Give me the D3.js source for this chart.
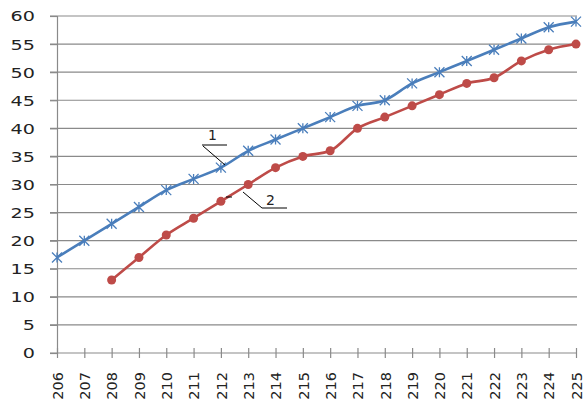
<!DOCTYPE html>
<html><head><meta charset="utf-8">
<script src="https://cdn.jsdelivr.net/npm/d3@7"></script>
<style>body{margin:0;background:#fff}svg{display:block}</style>
</head><body>
<svg id="c" width="587" height="408"></svg>
<script>
const categories = [206,207,208,209,210,211,212,213,214,215,216,217,218,219,220,221,222,223,224,225];
const series1 = [17,20,23,26,29,31,33,36,38,40,42,44,45,48,50,52,54,56,58,59];
const series2 = [null,null,13,17,21,24,27,30,33,35,36,40,42,44,46,48,49,52,54,55];
const yTicks = [0,5,10,15,20,25,30,35,40,45,50,55,60];

const FONT = "DejaVu Sans, Verdana, sans-serif";
const svg = d3.select("#c");
const x = d3.scalePoint().domain(categories).range([57, 576]);
const y = d3.scaleLinear().domain([0, 60]).range([353, 16]);

// gridlines
svg.append("g").selectAll("line").data(yTicks.filter(d => d > 0)).join("line")
  .attr("x1", 50).attr("x2", 577).attr("y1", d => y(d)).attr("y2", d => y(d))
  .attr("stroke", "#8a8a8a").attr("stroke-width", 1.2);

// y axis
const ya = svg.append("g").attr("transform", "translate(57,0)")
  .call(d3.axisLeft(y).tickValues(yTicks).tickSize(7));
ya.select(".domain").attr("stroke", "#8a8a8a").attr("stroke-width", 1.2);
ya.selectAll(".tick line").attr("stroke", "#8a8a8a").attr("stroke-width", 1.2);
ya.selectAll("text").attr("font-family", FONT).attr("font-size", 13.7).attr("fill", "#222")
  .attr("x", 0).attr("dy", "0.36em").attr("text-anchor", "end")
  .attr("transform", "translate(-22,0) scale(1.4,1)");

// x axis
const xa = svg.append("g").attr("transform", "translate(0,353)")
  .call(d3.axisBottom(x).tickSize(5).tickSizeOuter(0).tickPadding(0));
xa.select(".domain").attr("stroke", "#8a8a8a").attr("stroke-width", 1.2).attr("d", "M50,0H577");
xa.selectAll(".tick line").attr("stroke", "#8a8a8a").attr("stroke-width", 1.2).attr("y1", -5);
xa.selectAll("text").attr("font-family", FONT).attr("font-size", 14.5).attr("fill", "#222")
  .attr("transform", "rotate(-90)").attr("text-anchor", "end").attr("dy", "0.36em").attr("x", -19).attr("y", 0);

const line = d3.line().x(d => x(d[0])).y(d => y(d[1])).curve(d3.curveMonotoneX);
const d1 = categories.map((c, i) => [c, series1[i]]);
const d2 = categories.map((c, i) => [c, series2[i]]).filter(d => d[1] != null);

svg.append("path").attr("d", line(d1)).attr("fill", "none").attr("stroke", "#4a7ebb").attr("stroke-width", 2.6);
svg.append("path").attr("d", line(d2)).attr("fill", "none").attr("stroke", "#be4b48").attr("stroke-width", 2.6);

// star markers
const s = 5;
svg.append("g").selectAll("path").data(d1).join("path")
  .attr("transform", d => `translate(${x(d[0])},${y(d[1])})`)
  .attr("d", `M${-s},${-s}L${s},${s}M${-s},${s}L${s},${-s}M0,${-s}V${s}`)
  .attr("stroke", "#4a7ebb").attr("stroke-width", 1.3).attr("fill", "none");
// circle markers
svg.append("g").selectAll("circle").data(d2).join("circle")
  .attr("cx", d => x(d[0])).attr("cy", d => y(d[1])).attr("r", 4.5)
  .attr("fill", "#be4b48");

// annotations
const ann = svg.append("g").attr("stroke", "#000").attr("stroke-width", 1).attr("fill", "none");
ann.append("path").attr("d", "M202,145H227M203,146L225,165");
ann.append("path").attr("d", "M243,192L262,208H287M226,197H232");
svg.append("text").attr("x", 208).attr("y", 140).text("1")
  .attr("font-family", FONT).attr("font-size", 14).attr("fill", "#222");
svg.append("text").attr("x", 266).attr("y", 205).text("2")
  .attr("font-family", FONT).attr("font-size", 14).attr("fill", "#222");
</script>
</body></html>
